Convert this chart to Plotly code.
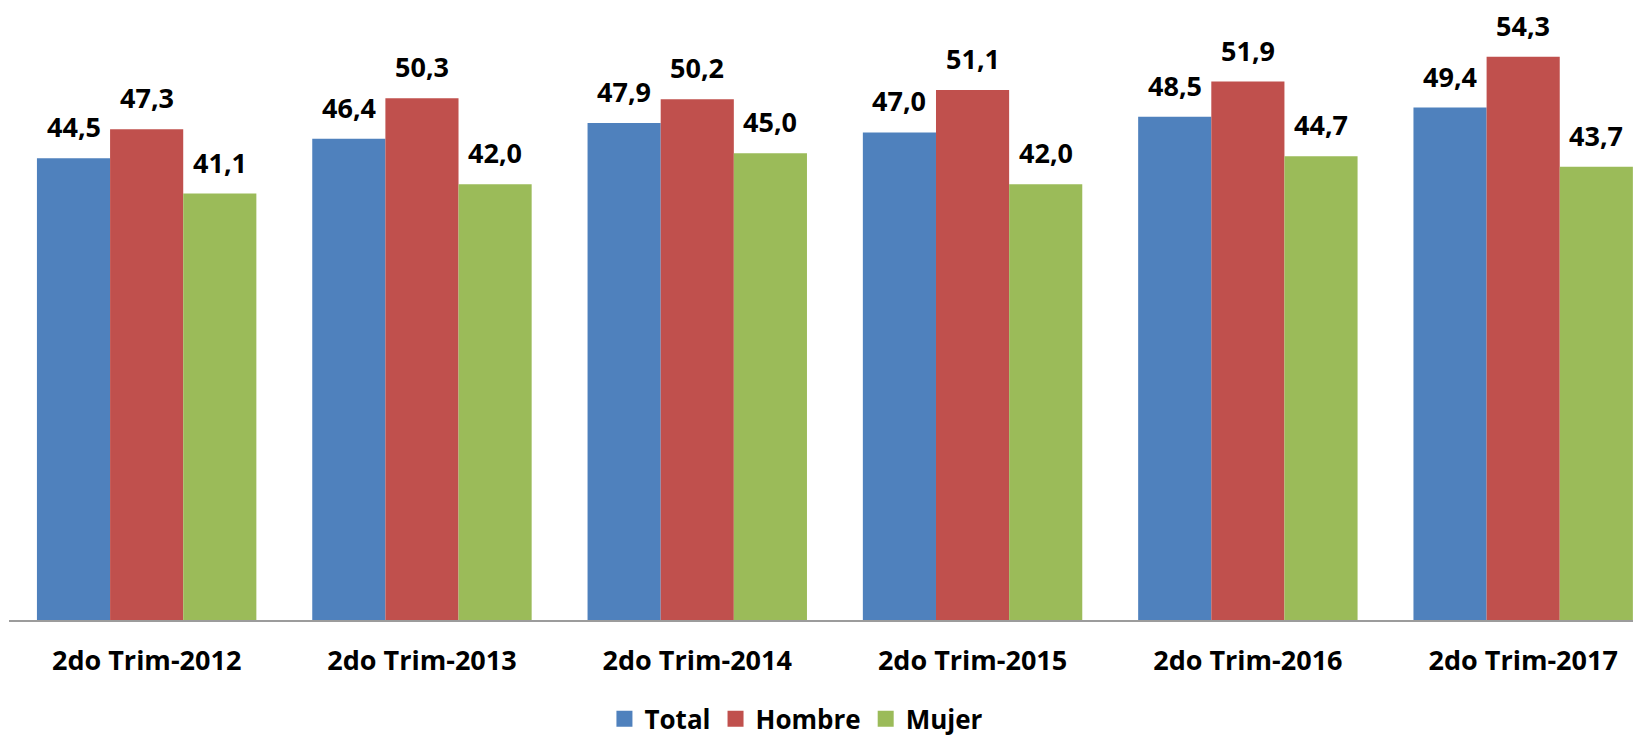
import plotly.graph_objects as go

categories = ["2do Trim-2012", "2do Trim-2013", "2do Trim-2014", "2do Trim-2015", "2do Trim-2016", "2do Trim-2017"]
total = [44.5, 46.4, 47.9, 47.0, 48.5, 49.4]
hombre = [47.3, 50.3, 50.2, 51.1, 51.9, 54.3]
mujer = [41.1, 42.0, 45.0, 42.0, 44.7, 43.7]

series = [("Total", total, "#4F81BD"), ("Hombre", hombre, "#C0504D"), ("Mujer", mujer, "#9BBB59")]

FONT = "Open Sans"
bargap = 0.203
bw = (1 - bargap) / 3

fig = go.Figure()
annotations = []
for k, (name, vals, color) in enumerate(series):
    fig.add_trace(go.Bar(
        x=list(range(len(categories))), y=vals, name=name,
        marker=dict(color=color, line=dict(width=0)),
        showlegend=False,
    ))
    # legend entry with a larger square swatch
    fig.add_trace(go.Scatter(
        x=[None], y=[None], mode="markers", name=name,
        marker=dict(symbol="square", size=18, color=color),
        showlegend=True, hoverinfo="skip",
    ))
    off = (k - 1) * bw
    for i, v in enumerate(vals):
        annotations.append(dict(
            x=i + off, y=v, xref="x", yref="y",
            text=f"{v:.1f}".replace(".", ","),
            showarrow=False, yanchor="bottom", yshift=12, borderpad=0,
            font=dict(family=FONT, size=27, color="black", weight="bold"),
        ))

# the page body has an 8px margin, so the figure is sized to fit the window
fig.update_layout(
    width=1633, height=730,
    margin=dict(l=1, r=0, t=2, b=118, autoexpand=False),
    paper_bgcolor="white", plot_bgcolor="white",
    barmode="group", bargap=bargap, bargroupgap=0,
    separators=",.",
    annotations=annotations,
    showlegend=True,
    legend=dict(orientation="h", x=0.4825, xanchor="center", y=-0.162, yanchor="middle",
                font=dict(family=FONT, size=26, color="black", weight="bold"),
                itemsizing="trace", traceorder="normal", bgcolor="rgba(0,0,0,0)"),
    xaxis=dict(
        tickmode="array", tickvals=list(range(len(categories))), ticktext=categories,
        range=[-0.5, 5.428], showgrid=False, zeroline=False, automargin=False,
        showline=True, linecolor="#9c9c9c", linewidth=2, ticks="",
        tickfont=dict(family=FONT, size=27, color="black", weight="bold"),
        ticklabelstandoff=16,
    ),
    yaxis=dict(range=[0, 58.8], visible=False, showgrid=False, zeroline=False, automargin=False),
)

fig.write_html("out.html")
